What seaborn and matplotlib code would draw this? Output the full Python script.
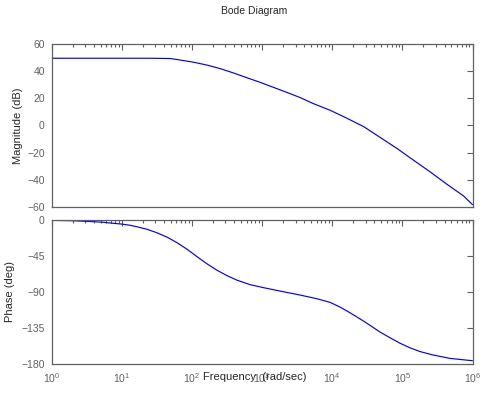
import numpy as np
import pandas as pd
import seaborn as sns
import matplotlib
matplotlib.use('Agg')
import matplotlib.pyplot as plt
from matplotlib.ticker import LogLocator, NullFormatter

# values (log10 of frequency in rad/sec)
mag_logw = [0.0, 0.5, 1.0, 1.41, 1.69, 1.83, 2.02, 2.22, 2.40, 2.59, 2.78, 2.97,
            3.16, 3.35, 3.54, 3.73, 3.97, 4.21, 4.45, 4.68, 4.92, 5.16, 5.40,
            5.63, 5.87, 6.0]
mag_db = [49.5, 49.5, 49.5, 49.5, 49.3, 48.2, 46.6, 44.4, 41.9, 38.7, 35.2, 31.8,
          28.1, 24.4, 20.6, 16.1, 11.2, 5.3, -0.9, -8.7, -16.8, -25.6, -34.3,
          -43.1, -51.8, -58.3]

phase_logw = [0.0, 0.3, 0.55, 0.72, 0.85, 1.0, 1.12, 1.22, 1.36, 1.50, 1.65, 1.79,
              1.93, 2.07, 2.21, 2.36, 2.50, 2.64, 2.83, 3.02, 3.23, 3.54, 3.78,
              3.97, 4.11, 4.26, 4.40, 4.54, 4.68, 4.83, 4.97, 5.11, 5.25, 5.44,
              5.68, 6.0]
phase_deg = [-0.6, -1.0, -2.0, -2.8, -4.0, -5.2, -6.7, -8.6, -11.7, -16.0, -21.7, -28.6,
             -36.6, -45.8, -54.6, -63.0, -69.6, -75.2, -80.9, -84.6, -88.4, -93.8, -98.4,
             -103.0, -108.8, -116.3, -123.8, -131.7, -140.0, -147.5, -154.2, -159.8, -164.4, -168.8,
             -173.0, -175.9]

mag_ticks = [-60, -40, -20, 0, 20, 40, 60]
phase_ticks = [0, -45, -90, -135, -180]

mag = pd.DataFrame({'w': 10.0 ** np.array(mag_logw), 'db': mag_db})
ph = pd.DataFrame({'w': 10.0 ** np.array(phase_logw), 'deg': phase_deg})

sns.set_style('white')
plt.rcParams['font.family'] = ['Liberation Sans', 'DejaVu Sans']
plt.rcParams['mathtext.fontset'] = 'custom'
plt.rcParams['mathtext.rm'] = 'Liberation Sans'
plt.rcParams['mathtext.default'] = 'regular'

gray = '#606060'
fig = plt.figure(figsize=(5, 3.98), dpi=100)
ax1 = fig.add_axes([0.1034, 0.480, 0.8416, 0.4095])
ax2 = fig.add_axes([0.1034, 0.0854, 0.8416, 0.362])

sns.lineplot(data=mag, x='w', y='db', ax=ax1, color='blue', lw=0.85, estimator=None)
sns.lineplot(data=ph, x='w', y='deg', ax=ax2, color='blue', lw=0.85, estimator=None)

for ax in (ax1, ax2):
    ax.set_xscale('log')
    ax.set_xlim(1, 1e6)
    ax.xaxis.set_major_locator(LogLocator(base=10, numticks=10))
    ax.xaxis.set_minor_locator(LogLocator(base=10, subs=np.arange(2, 10), numticks=20))
    ax.tick_params(which='both', direction='in', top=True, right=True, colors=gray,
                   labelsize=7.5, width=0.8)
    ax.tick_params(which='major', length=4)
    ax.tick_params(which='minor', length=2.5)
    ax.tick_params(axis='y', pad=5)
    for s in ax.spines.values():
        s.set_color(gray)
        s.set_linewidth(0.9)
    ax.set_xlabel('')
    ax.set_ylabel('')

ax1.set_ylim(-60, 60)
ax1.set_yticks(mag_ticks)
ax1.xaxis.set_major_formatter(NullFormatter())
ax1.set_ylabel('Magnitude (dB)', fontsize=8)
ax1.yaxis.set_label_coords(-0.068, 0.5)

ax2.set_ylim(-180, 0)
ax2.set_yticks(phase_ticks)
ax2.tick_params(axis='x', pad=5)
ax2.set_ylabel('Phase (deg)', fontsize=8)
ax2.yaxis.set_label_coords(-0.087, 0.5)
ax2.set_xlabel('Frequency  (rad/sec)', fontsize=8)
ax2.xaxis.set_label_coords(0.482, -0.055)

fig.text(0.509, 1 - 10.5 / 398, 'Bode Diagram', ha='center', va='center', fontsize=7.5)

fig.savefig('out.png', dpi=100)
